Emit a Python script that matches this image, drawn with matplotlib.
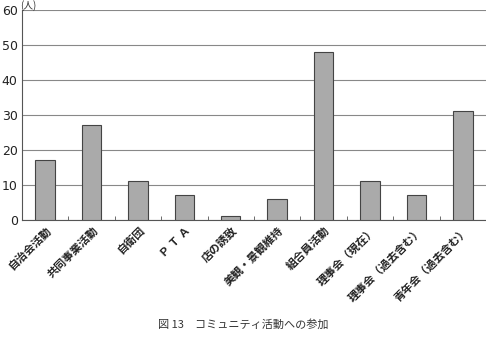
import matplotlib.pyplot as plt
import numpy as np

plt.rcParams['font.family'] = ['Noto Sans CJK JP', 'DejaVu Sans']

# データ
categories = ["自治会活動", "共同事業活動", "自衛団", "Ｐ Ｔ Ａ", "店の誘致",
              "美観・景観維持", "組合員活動", "理事会（現在）", "理事会（過去含む）",
              "青年会（過去含む）"]
values = [17, 27, 11, 7, 1, 6, 48, 11, 7, 31]
yticks = [0, 10, 20, 30, 40, 50, 60]

fig = plt.figure(figsize=(4.86, 3.64), dpi=100)
ax = fig.add_axes([0.045, 0.396, 0.955, 0.5765])

x = np.arange(len(categories))
ax.bar(x, values, width=0.42, color="#aaaaaa", edgecolor="#444444", linewidth=0.8, zorder=3)

ax.set_xlim(-0.5, len(categories) - 0.5)
ax.set_ylim(0, 60)
ax.set_yticks(yticks)
ax.set_yticklabels([str(v) for v in yticks], fontsize=9, family="DejaVu Sans", color="#222222")
ax.tick_params(axis="y", length=0, pad=3)
ax.yaxis.grid(True, color="#888888", linewidth=0.8, zorder=0)

# 区切り目盛
ax.set_xticks(x)
ax.set_xticks(np.arange(-0.5, len(categories)), minor=True)
ax.tick_params(axis="x", which="major", length=0, pad=3)
ax.tick_params(axis="x", which="minor", length=3, direction="in", color="#555555")
ax.set_xticklabels(categories, rotation=45, ha="right", rotation_mode="anchor",
                   fontsize=8, color="#222222", fontweight="bold")

for side in ["top", "right"]:
    ax.spines[side].set_visible(False)
ax.spines["left"].set_color("#555555")
ax.spines["bottom"].set_color("#555555")

fig.text(0.041, 0.999, "(人)", fontsize=7, ha="left", va="top", color="#333333")

fig.text(0.5, 0.108, "図 13\u3000コミュニティ活動への参加", fontsize=8, ha="center", va="center",
         color="#333333")

plt.savefig("out.png", dpi=100)
